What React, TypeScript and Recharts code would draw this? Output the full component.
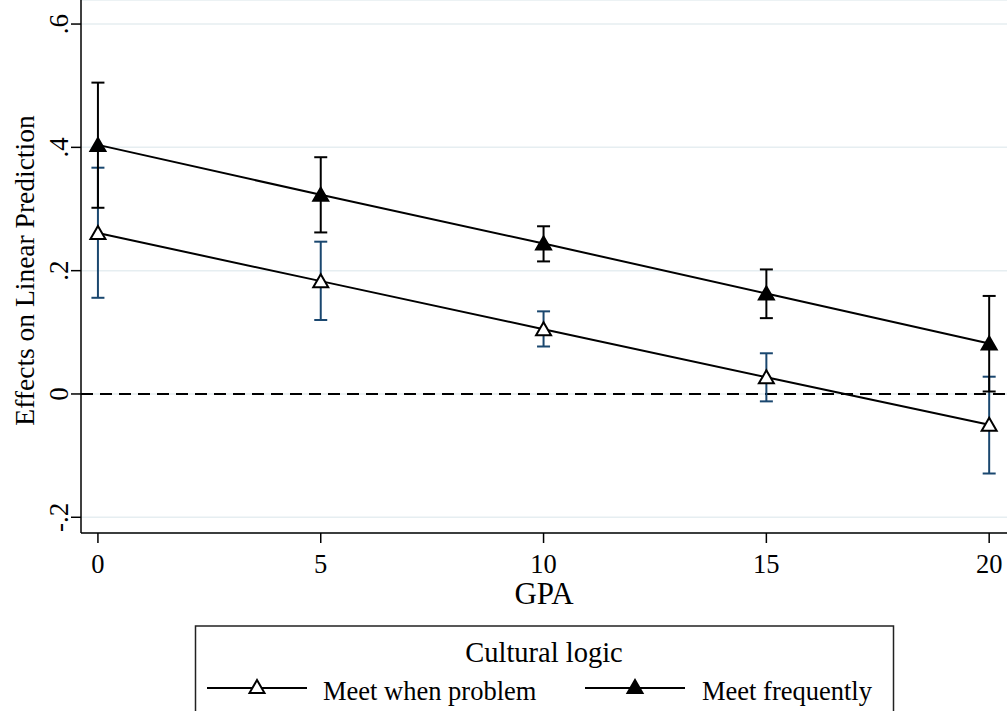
import React from 'react';
import { ComposedChart, Line, ErrorBar, XAxis, YAxis, CartesianGrid, ReferenceLine, Label } from 'recharts';

// GPA values on the x axis
const gpa = [0, 5, 10, 15, 20];

// "Meet when problem" estimates and 95% CI bounds
const problemEst = [0.261, 0.183, 0.105, 0.027, -0.05];
const problemLow = [0.156, 0.12, 0.077, -0.012, -0.129];
const problemHigh = [0.367, 0.247, 0.134, 0.066, 0.028];

// "Meet frequently" estimates and 95% CI bounds
const frequentEst = [0.404, 0.323, 0.244, 0.163, 0.082];
const frequentLow = [0.302, 0.262, 0.215, 0.123, 0.004];
const frequentHigh = [0.505, 0.384, 0.272, 0.202, 0.159];

const xTicks = [0, 5, 10, 15, 20];
const yTicks = [-0.2, 0, 0.2, 0.4, 0.6];

const seriesNames = ['Meet when problem', 'Meet frequently'];
const legendTitle = 'Cultural logic';

const data = gpa.map((g, i) => ({
    gpa: g,
    problem: problemEst[i],
    problemErr: [problemEst[i] - problemLow[i], problemHigh[i] - problemEst[i]],
    frequent: frequentEst[i],
    frequentErr: [frequentEst[i] - frequentLow[i], frequentHigh[i] - frequentEst[i]],
}));

const FONT = '"Liberation Serif", "Times New Roman", serif';
const NAVY = '#1a476f';

const fmtY = (v: number) => {
    if (v === 0) return '0';
    const s = '.' + Math.round(Math.abs(v) * 10);
    return v < 0 ? '-' + s : s;
};

const triPath = (cx: number, cy: number) =>
    `M${cx},${cy - 7} L${cx + 7.5},${cy + 6} L${cx - 7.5},${cy + 6} Z`;

const Triangle = ({ cx, cy, filled }: { cx: number; cy: number; filled: boolean }) => (
    <path d={triPath(cx, cy)} fill={filled ? '#000' : '#fff'} stroke="#000" strokeWidth={2} />
);

const YTick = (props: any) => {
    const { x, y, payload } = props;
    return (
        <text
            x={x}
            y={y}
            transform={`rotate(-90, ${x}, ${y})`}
            textAnchor="middle"
            fontSize={27}
            fontFamily={FONT}
            fill="#000"
        >
            {fmtY(payload.value)}
        </text>
    );
};

const YTitle = (props: any) => {
    const { viewBox } = props;
    const x = viewBox.x + 34;
    const y = viewBox.y + viewBox.height / 2 + 4;
    return (
        <text x={x} y={y} transform={`rotate(-90, ${x}, ${y})`} textAnchor="middle" fontSize={27.5} fontFamily={FONT} fill="#000">
            Effects on Linear Prediction
        </text>
    );
};

const XTitle = (props: any) => {
    const { viewBox } = props;
    return (
        <text x={viewBox.x + viewBox.width / 2} y={viewBox.y + 71} textAnchor="middle" fontSize={31} fontFamily={FONT} fill="#000">
            GPA
        </text>
    );
};

const LegendBox = () => (
    <svg width={1007} height={711} style={{ position: 'absolute', left: 0, top: 0, pointerEvents: 'none' }}>
        <rect x={195.5} y={626} width={698} height={100} fill="#fff" stroke="#222" strokeWidth={1.5} />
        <text x={544} y={662} textAnchor="middle" fontSize={28.5} fontFamily={FONT} fill="#000">
            {legendTitle}
        </text>
        <line x1={207} y1={688} x2={307} y2={688} stroke="#000" strokeWidth={2} />
        <Triangle cx={257} cy={687} filled={false} />
        <text x={323} y={700} fontSize={26.5} fontFamily={FONT} fill="#000">
            {seriesNames[0]}
        </text>
        <line x1={585} y1={688} x2={685} y2={688} stroke="#000" strokeWidth={2} />
        <Triangle cx={635} cy={687} filled={true} />
        <text x={702} y={700} fontSize={26.5} fontFamily={FONT} fill="#000">
            {seriesNames[1]}
        </text>
    </svg>
);

export default function App() {
    return (
        <div style={{ position: 'absolute', left: 0, top: 0, width: 1007, height: 711, background: '#fff', overflow: 'hidden' }}>
            <ComposedChart width={1007} height={711} data={data} margin={{ top: 0, right: 0, bottom: 0, left: 0 }}>
                <CartesianGrid vertical={false} stroke="#e6eef1" strokeWidth={1.5} />
                <XAxis
                    type="number"
                    dataKey="gpa"
                    domain={[-0.38, 20.4]}
                    ticks={xTicks}
                    allowDataOverflow
                    height={178}
                    tickSize={10}
                    tickMargin={11}
                    axisLine={{ stroke: '#000', strokeWidth: 1.5 }}
                    tickLine={{ stroke: '#000', strokeWidth: 1.5 }}
                    tick={{ fontSize: 26.5, fill: '#000', fontFamily: FONT }}
                >
                    <Label content={XTitle} />
                </XAxis>
                <YAxis
                    type="number"
                    domain={[-0.2255, 0.639]}
                    ticks={yTicks}
                    allowDataOverflow
                    width={81}
                    tickSize={10}
                    tickMargin={3}
                    axisLine={{ stroke: '#000', strokeWidth: 1.5 }}
                    tickLine={{ stroke: '#000', strokeWidth: 1.5 }}
                    tick={YTick}
                >
                    <Label content={YTitle} />
                </YAxis>
                <ReferenceLine y={0} stroke="#000" strokeWidth={2} strokeDasharray="12 7" />
                <Line
                    dataKey="problem"
                    name={seriesNames[0]}
                    stroke="#000"
                    strokeWidth={2}
                    isAnimationActive={false}
                    dot={(p: any) => <Triangle key={`p${p.index}`} cx={p.cx} cy={p.cy} filled={false} />}
                    activeDot={false}
                >
                    <ErrorBar dataKey="problemErr" direction="y" width={6.5} stroke={NAVY} strokeWidth={2} isAnimationActive={false} />
                </Line>
                <Line
                    dataKey="frequent"
                    name={seriesNames[1]}
                    stroke="#000"
                    strokeWidth={2}
                    isAnimationActive={false}
                    dot={(p: any) => <Triangle key={`f${p.index}`} cx={p.cx} cy={p.cy} filled={true} />}
                    activeDot={false}
                >
                    <ErrorBar dataKey="frequentErr" direction="y" width={6.5} stroke="#000" strokeWidth={2} isAnimationActive={false} />
                </Line>
            </ComposedChart>
            <LegendBox />
        </div>
    );
}
